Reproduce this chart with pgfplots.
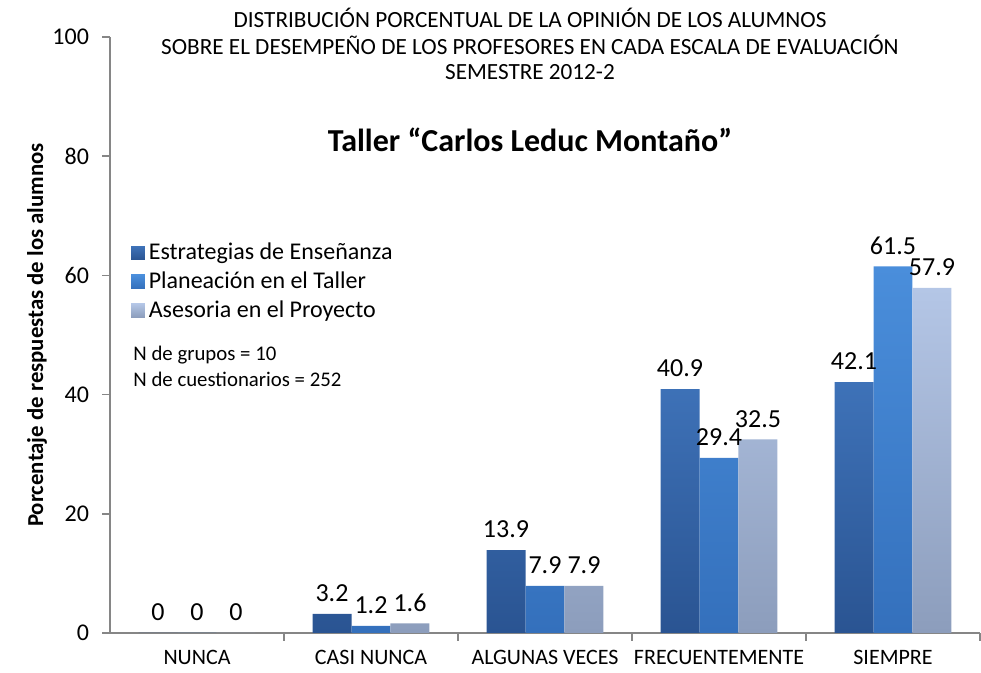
\documentclass[border=0pt]{standalone}
\usepackage{pgfplots}
\pgfplotsset{compat=1.18}
\usepackage{fontspec}
\setmainfont{Carlito}

\definecolor{axgray}{HTML}{868686}
\definecolor{serAtop}{HTML}{3E72B8}
\definecolor{serAbot}{HTML}{2A5492}
\definecolor{serBtop}{HTML}{4A8EDB}
\definecolor{serBbot}{HTML}{3470BC}
\definecolor{serCtop}{HTML}{B4C6E6}
\definecolor{serCbot}{HTML}{8C9DBC}

\begin{document}
\begin{tikzpicture}
\begin{axis}[
    scale only axis,
    width=435pt, height=298pt,
    ybar=0pt,
    bar width=0.224,
    xmin=-0.5, xmax=4.5,
    ymin=0, ymax=100,
    ytick={0,20,...,100},
    xtick={0,1,2,3,4},
    xticklabels={NUNCA, CASI NUNCA, ALGUNAS VECES, FRECUENTEMENTE, SIEMPRE},
    minor xtick={0.5,1.5,2.5,3.5,4.5},
    axis x line=bottom, axis y line=left,
    axis line style={-, axgray, line width=0.8pt},
    tick style={axgray, line width=0.8pt},
    major tick length=4pt, minor tick length=4pt,
    tick align=outside,
    x tick style={draw=none},
    minor x tick style={draw=axgray},
    /pgf/number format/assume math mode=true,
    yticklabel style={font=\fontsize{12}{14}\selectfont, xshift=-3pt},
    xticklabel style={font=\fontsize{11}{13}\selectfont, yshift=-1pt},
    nodes near coords,
    nodes near coords style={font=\fontsize{13}{15}\selectfont, anchor=south, yshift=2.5pt,
        /pgf/number format/.cd, fixed, precision=1, assume math mode=true},
    every axis plot/.append style={draw=none},
    legend style={at={(0.017,0.668)}, anchor=north west, draw=none, fill=none,
        font=\fontsize{12}{14}\selectfont, row sep=0.5pt,
        /tikz/every even column/.append style={column sep=2pt}},
    legend cell align=left,
    legend image code/.code={\path[#1] (0pt,-3.4pt) rectangle (6.8pt,3.4pt);},
]
\addplot[top color=serAtop, bottom color=serAbot] coordinates {(0,0) (1,3.2) (2,13.9) (3,40.9) (4,42.1)};
\addplot[top color=serBtop, bottom color=serBbot] coordinates {(0,0) (1,1.2) (2,7.9) (3,29.4) (4,61.5)};
\addplot[top color=serCtop, bottom color=serCbot] coordinates {(0,0) (1,1.6) (2,7.9) (3,32.5) (4,57.9)};
\legend{Estrategias de Enseñanza, Planeación en el Taller, Asesoria en el Proyecto}
\coordinate (bl) at (rel axis cs:0,0);
\end{axis}
\begin{scope}[shift={(bl)}]
\node[font=\fontsize{11.6}{14}\selectfont] at (210pt,307.5pt) {DISTRIBUCIÓN PORCENTUAL DE LA OPINIÓN DE LOS ALUMNOS};
\node[font=\fontsize{11.6}{14}\selectfont] at (210pt,294pt) {SOBRE EL DESEMPEÑO DE LOS PROFESORES EN CADA ESCALA DE EVALUACIÓN};
\node[font=\fontsize{11.6}{14}\selectfont] at (210pt,280.5pt) {SEMESTRE 2012-2};
\node[font=\bfseries\fontsize{16}{19}\selectfont] at (210pt,246.5pt) {Taller “Carlos Leduc Montaño”};
\node[font=\fontsize{10.4}{12}\selectfont, anchor=west, inner sep=0pt] at (11.5pt,139pt) {N de grupos = 10};
\node[font=\fontsize{10.4}{12}\selectfont, anchor=west, inner sep=0pt] at (11.5pt,127pt) {N de cuestionarios = 252};
\node[font=\bfseries\fontsize{11.4}{13}\selectfont, rotate=90] at (-36.5pt,149pt) {Porcentaje de respuestas de los alumnos};
\end{scope}
\pgfresetboundingbox
\path[use as bounding box] ([shift={(-55pt,-20pt)}]bl) rectangle ([shift={(435.5pt,316.5pt)}]bl);
\end{tikzpicture}
\end{document}
